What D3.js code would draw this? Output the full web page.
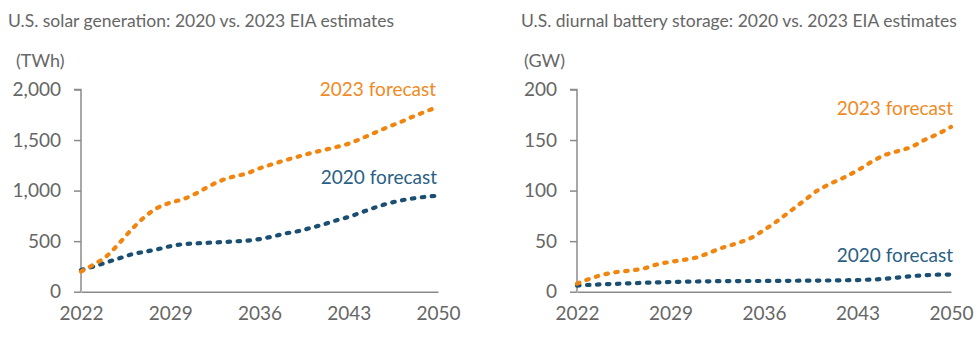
<!DOCTYPE html>
<html><head><meta charset="utf-8">
<script src="https://cdn.jsdelivr.net/npm/d3@7"></script>
<style>
body{margin:0;background:#fff;}
svg text{font-family:Lato,"Open Sans",sans-serif;}
</style></head>
<body><svg id="c" width="979" height="340"></svg>
<script>
const years = d3.range(2022, 2051);
const xTicks = [2022, 2029, 2036, 2043, 2050];
const solarTicks = [0, 500, 1000, 1500, 2000];
const batteryTicks = [0, 50, 100, 150, 200];
const solar2023 = [200,270,350,480,620,740,830,880,915,970,1040,1100,1140,1170,1220,1260,1300,1335,1370,1400,1430,1465,1515,1570,1625,1675,1730,1780,1830];
const solar2020 = [215,250,290,330,370,395,420,450,470,478,484,490,497,505,520,545,575,598,630,665,705,740,785,830,870,900,922,938,950];
const battery2023 = [8,13,17,19.5,21,23,27,29.5,31.5,34,39,44,48,53,61,70,80,90,100,107,113,120,128,135,139,143,150,156,163];
const battery2020 = [6,6.8,7.3,7.8,8.3,8.8,9.2,9.6,9.9,10.1,10.3,10.5,10.5,10.6,10.6,10.7,10.8,10.9,11,11.1,11.3,11.5,12,12.7,14,15.3,16.3,16.8,17];

const ORANGE = "#f0850f", BLUE = "#1b4f72", GREY = "#666", AXIS = "#8a8a8a";
const svg = d3.select("#c");

function panel(o){
  const g = svg.append("g");
  const x = d3.scaleLinear().domain([2022,2050]).range([o.x0, o.x1]);
  const y = d3.scaleLinear().domain([0, o.ymax]).range([291.7, 89.5]);
  g.append("text").attr("x", o.titleX).attr("y", 27).attr("fill", GREY)
    .attr("font-size", 17.5).attr("font-weight", 400).text(o.title);
  g.append("text").attr("x", o.unitX).attr("y", 67).attr("fill", GREY)
    .attr("font-size", 18).attr("font-weight", 400).text(o.unit);
  const ya = g.append("g").attr("transform", `translate(${o.x0},0)`)
    .call(d3.axisLeft(y).tickValues(o.yTicks).tickSize(7).tickPadding(13).tickFormat(d3.format(",")));
  const xa = g.append("g").attr("transform", `translate(0,291.7)`)
    .call(d3.axisBottom(x).tickValues(xTicks).tickSize(0).tickPadding(15).tickFormat(d3.format("d")));
  [ya, xa].forEach(a => {
    a.select(".domain").attr("stroke", AXIS).attr("stroke-width", 1.5);
    a.selectAll(".tick line").attr("stroke", AXIS).attr("stroke-width", 1.5);
    a.selectAll("text").attr("fill", GREY).attr("font-size", 19).attr("font-weight", 400)
      .attr("font-family", "Lato, sans-serif");
  });
  ya.select(".domain").attr("d", `M-7,${y(o.ymax)}H0V${y(0)}`);
  const line = d3.line().x((d,i)=>x(years[i])).y(d=>y(d)).curve(d3.curveMonotoneX);
  [[o.s20, BLUE],[o.s23, ORANGE]].forEach(([s,c]) => {
    g.append("path").datum(s).attr("d", line).attr("fill","none").attr("stroke", c)
      .attr("stroke-width", 4.2).attr("stroke-linecap","round").attr("stroke-dasharray","2.5,7.5");
  });
  g.append("text").attr("x", o.lab23[0]).attr("y", o.lab23[1]).attr("text-anchor","end")
    .attr("fill", "#f08a24").attr("font-size", 19).attr("font-weight", 400).text("2023 forecast");
  g.append("text").attr("x", o.lab20[0]).attr("y", o.lab20[1]).attr("text-anchor","end")
    .attr("fill", "#2a5f86").attr("font-size", 19).attr("font-weight", 400).text("2020 forecast");
}

panel({x0:81, x1:438, ymax:2000, yTicks:solarTicks, title:"U.S. solar generation: 2020 vs. 2023 EIA estimates",
  titleX:8, unit:"(TWh)", unitX:16, s23:solar2023, s20:solar2020, lab23:[436,96], lab20:[437,184]});
panel({x0:577, x1:951, ymax:200, yTicks:batteryTicks, title:"U.S. diurnal battery storage: 2020 vs. 2023 EIA estimates",
  titleX:521, unit:"(GW)", unitX:524, s23:battery2023, s20:battery2020, lab23:[953,115], lab20:[953,262]});
</script></body></html>
